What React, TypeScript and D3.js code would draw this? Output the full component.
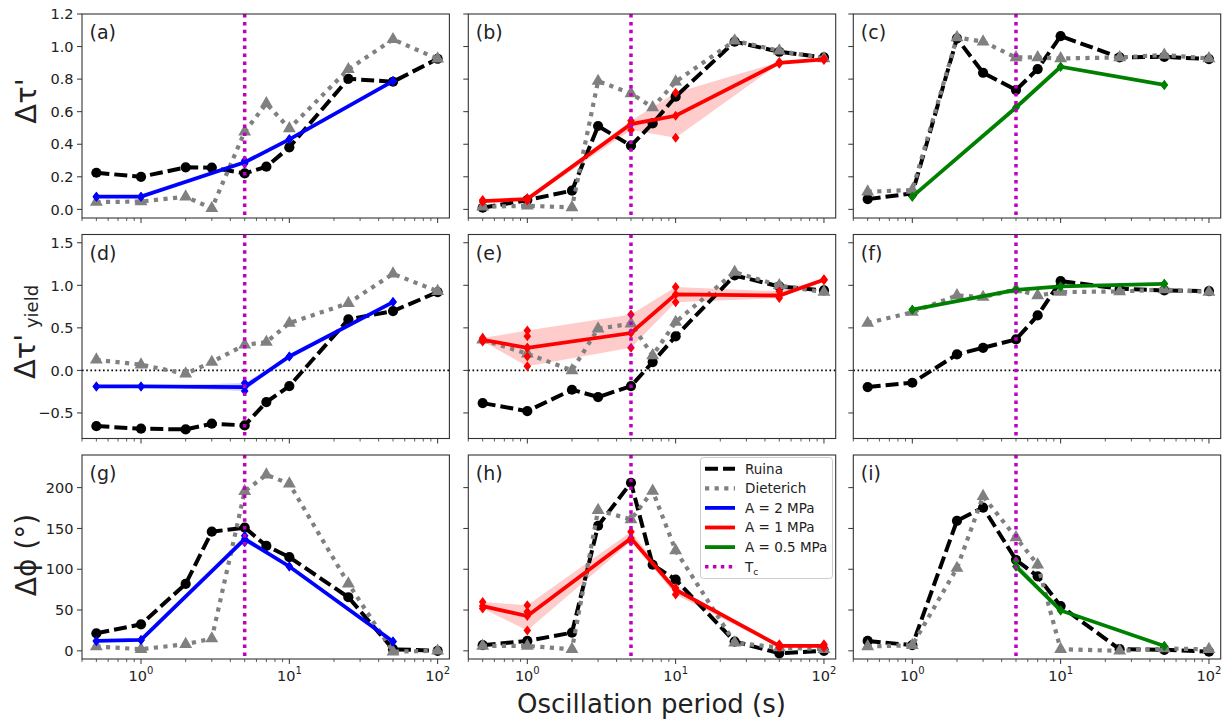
import React from 'react';
import * as d3 from 'd3';

// ---------- data ----------
const periods = [0.5, 1, 2, 3, 5, 7, 10, 25, 50, 100];
const Tc = 5;

// Row 1: Δτ'
const ruinaA = [0.225, 0.2, 0.258, 0.256, 0.221, 0.262, 0.381, 0.802, 0.784, 0.925];
const dieterichA = [0.045, 0.048, 0.078, 0.006, 0.477, 0.65, 0.497, 0.86, 1.044, 0.925];
const ruinaB = [0.01, 0.057, 0.115, 0.512, 0.391, 0.528, 0.692, 1.03, 0.968, 0.933];
const dieterichB = [0.016, 0.022, 0.012, 0.788, 0.712, 0.626, 0.784, 1.036, 0.974, 0.927];
const ruinaC = [0.063, 0.098, 1.05, 0.839, 0.733, 0.862, 1.064, 0.933, 0.937, 0.923];
const dieterichC = [0.108, 0.119, 1.056, 1.03, 0.933, 0.933, 0.927, 0.933, 0.948, 0.927];

// Row 2: Δτ'_yield
const ruinaD = [-0.654, -0.685, -0.693, -0.626, -0.646, -0.372, -0.184, 0.599, 0.697, 0.92];
const dieterichD = [0.125, 0.067, -0.039, 0.098, 0.3, 0.333, 0.556, 0.79, 1.135, 0.93];
const ruinaE = [-0.384, -0.478, -0.227, -0.313, -0.184, 0.098, 0.4, 1.116, 0.987, 0.94];
const dieterichE = [0.36, 0.196, 0.0, 0.49, 0.548, 0.176, 0.568, 1.155, 0.998, 0.92];
const ruinaF = [-0.196, -0.145, 0.188, 0.266, 0.364, 0.646, 1.05, 0.96, 0.94, 0.932];
const dieterichF = [0.556, 0.685, 0.881, 0.861, 0.951, 0.881, 0.92, 0.928, 0.951, 0.92];

// Row 3: Δφ (°)
const ruinaG = [21.5, 32.5, 82, 146, 151, 128.6, 114.8, 65.7, 2, 0];
const dieterichG = [5.3, 2, 8.1, 15, 195.5, 215.8, 204.8, 82.3, -1, 0];
const ruinaH = [6.9, 12.2, 22.3, 153.3, 206, 105.5, 87.2, 11.4, -3, 0];
const dieterichH = [6, 6, 2, 172.4, 161, 196, 123, 10, 4, 2];
const ruinaI = [12.2, 6.9, 159.4, 175.6, 111.5, 91.3, 54.8, 2, 1.2, -1];
const dieterichI = [5.3, 6.9, 101.4, 189.5, 139, 105.5, 2, 0, 2.8, 2];

// Model runs (A = 2, 1, 0.5 MPa): mean line and individual run values
const periods2MPa = [0.5, 1, 5, 10, 50];
const periods1MPa = [0.5, 1, 5, 10, 50, 100];
const periods05MPa = [1, 5, 10, 50];
const periods05MPaPhase = [5, 10, 50];

const meanA = [0.078, 0.078, 0.289, 0.43, 0.788];
const runsA = [[0.078], [0.078], [0.28, 0.3], [0.43], [0.788]];
const meanB = [0.051, 0.063, 0.524, 0.575, 0.9, 0.921];
const runsB = [[0.045, 0.057], [0.055, 0.07], [0.487, 0.545], [0.44, 0.716], [0.895, 0.905], [0.918, 0.925]];
const meanC = [0.078, 0.626, 0.876, 0.764];
const runsC = [[0.078], [0.626], [0.876], [0.764]];

const meanD = [-0.188, -0.188, -0.196, 0.164, 0.803];
const runsD = [[-0.188], [-0.188], [-0.149, -0.243], [0.164], [0.803]];
const meanE = [0.36, 0.266, 0.439, 0.893, 0.88, 1.065];
const runsE = [[0.34, 0.38], [0.47, 0.4, 0.266, 0.164, 0.05], [0.658, 0.266], [0.98, 0.8], [0.85, 0.93], [1.06, 1.07]];
const meanF = [0.713, 0.947, 0.987, 1.018];
const runsF = [[0.713], [0.947], [0.987], [1.018]];

const meanG = [12.2, 13.4, 137, 103.4, 11.4];
const runsG = [[12.2], [13.4], [133, 141], [103.4], [11.4]];
const meanH = [54.8, 42.6, 138, 75, 6, 6];
const runsH = [[52, 60], [25, 48, 56], [134, 146], [69, 77], [4, 8], [4, 8]];
const meanI = [103.4, 49.5, 6];
const runsI = [[103.4, 110], [49.5], [6]];

const panelLabels = ['(a)', '(b)', '(c)', '(d)', '(e)', '(f)', '(g)', '(h)', '(i)'];
const yTicksRows = [
  [0, 0.2, 0.4, 0.6, 0.8, 1.0, 1.2],
  [-0.5, 0, 0.5, 1.0, 1.5],
  [0, 50, 100, 150, 200],
];
const yTickFormats = [(v: number) => v.toFixed(1), (v: number) => v.toFixed(1), (v: number) => v.toFixed(0)];
const yDomains: [number, number][] = [[-0.053, 1.2], [-0.8, 1.597], [-10, 240]];
const xDomain: [number, number] = [0.4, 120];
const xMajor = [1, 10, 100];
const xMajorExp = ['0', '1', '2'];
const legendLabels = ['Ruina', 'Dieterich', 'A = 2 MPa', 'A = 1 MPa', 'A = 0.5 MPa', 'T'];

// ---------- styling / layout ----------
const FONT = 'DejaVu Sans, sans-serif';
const colLeft = [82, 468.3, 853.3];
const rowTop = [14, 234.5, 455];
const W = 367.4;
const H = 204;
const C_BLACK = '#000000';
const C_GREY = '#808080';
const C_MAG = '#bf00bf';
const modelColors = ['#0000ff', '#ff0000', '#008000'];
const AX = '#333333';
const TXT = '#222222';
const LW_RUINA = 4;
const LW_DIET = 4.2;
const LW_MODEL = 3.8;
const LW_TC = 3.5;
const DASH_RUINA = '13,5';
const DASH_DIET = '4.2,5.4';
const DASH_TC = '3.5,4.4';

const ruinaRows = [[ruinaA, ruinaB, ruinaC], [ruinaD, ruinaE, ruinaF], [ruinaG, ruinaH, ruinaI]];
const dietRows = [[dieterichA, dieterichB, dieterichC], [dieterichD, dieterichE, dieterichF], [dieterichG, dieterichH, dieterichI]];
const modelRows = [
  [
    { x: periods2MPa, mean: meanA, runs: runsA },
    { x: periods1MPa, mean: meanB, runs: runsB },
    { x: periods05MPa, mean: meanC, runs: runsC },
  ],
  [
    { x: periods2MPa, mean: meanD, runs: runsD },
    { x: periods1MPa, mean: meanE, runs: runsE },
    { x: periods05MPa, mean: meanF, runs: runsF },
  ],
  [
    { x: periods2MPa, mean: meanG, runs: runsG },
    { x: periods1MPa, mean: meanH, runs: runsH },
    { x: periods05MPaPhase, mean: meanI, runs: runsI },
  ],
];

const diamond = (cx: number, cy: number) => {
  const hw = 3.8, hh = 5;
  return `M${cx},${cy - hh}L${cx + hw},${cy}L${cx},${cy + hh}L${cx - hw},${cy}Z`;
};
const triPath = d3.symbol().type(d3.symbolTriangle).size(72)();

function minorTicks(): number[] {
  const out: number[] = [];
  [0.1, 1, 10, 100].forEach((dec) => {
    for (let k = 2; k <= 9; k++) {
      const v = dec * k;
      if (v >= xDomain[0] && v <= xDomain[1]) out.push(v);
    }
  });
  return out;
}

function Panel({ row, col }: { row: number; col: number }) {
  const x = d3.scaleLog().domain(xDomain).range([0, W]);
  const y = d3.scaleLinear().domain(yDomains[row]).range([H, 0]);
  const ruina = ruinaRows[row][col];
  const diet = dietRows[row][col];
  const model = modelRows[row][col];
  const color = modelColors[col];
  const line = d3.line<[number, number]>().x((d) => x(d[0])).y((d) => y(d[1]));
  const ruinaPts: [number, number][] = periods.map((p, i) => [p, ruina[i]]);
  const dietPts: [number, number][] = periods.map((p, i) => [p, diet[i]]);
  const meanPts: [number, number][] = model.x.map((p, i) => [p, model.mean[i]]);
  const lows = model.runs.map((r, i) => Math.min(...r, model.mean[i]));
  const highs = model.runs.map((r, i) => Math.max(...r, model.mean[i]));
  const area = d3
    .area<number>()
    .x((_, i) => x(model.x[i]))
    .y0((_, i) => y(lows[i]))
    .y1((_, i) => y(highs[i]));
  const clipId = `clip-${row}-${col}`;
  const left = colLeft[col];
  const top = rowTop[row];
  const minors = minorTicks();
  return (
    <g transform={`translate(${left},${top})`}>
      <defs>
        <clipPath id={clipId}>
          <rect x={0} y={0} width={W} height={H} />
        </clipPath>
      </defs>
      <rect x={0} y={0} width={W} height={H} fill="#fff" />
      <g clipPath={`url(#${clipId})`}>
        {row === 1 && (
          <line x1={0} x2={W} y1={y(0)} y2={y(0)} stroke="#000" strokeWidth={1.6} strokeDasharray="1.6,2.6" />
        )}
        <path d={area(model.x) || ''} fill={color} fillOpacity={0.2} stroke="none" />
        <path d={line(ruinaPts) || ''} fill="none" stroke={C_BLACK} strokeWidth={LW_RUINA} strokeDasharray={DASH_RUINA} />
        {ruinaPts.map((d, i) => (
          <circle key={`r${i}`} cx={x(d[0])} cy={y(d[1])} r={5.1} fill={C_BLACK} />
        ))}
        <path d={line(dietPts) || ''} fill="none" stroke={C_GREY} strokeWidth={LW_DIET} strokeDasharray={DASH_DIET} />
        {dietPts.map((d, i) => (
          <path key={`d${i}`} d={triPath || ''} transform={`translate(${x(d[0])},${y(d[1])})`} fill={C_GREY} />
        ))}
        <path d={line(meanPts) || ''} fill="none" stroke={color} strokeWidth={LW_MODEL} />
        {model.x.map((p, i) => (
          <g key={`m${i}`}>
            {[model.mean[i], ...model.runs[i]].map((v, j) => (
              <path key={j} d={diamond(x(p), y(v))} fill={color} />
            ))}
          </g>
        ))}
        <line x1={x(Tc)} x2={x(Tc)} y1={0} y2={H} stroke={C_MAG} strokeWidth={LW_TC} strokeDasharray={DASH_TC} />
      </g>
      <rect x={0} y={0} width={W} height={H} fill="none" stroke={AX} strokeWidth={1.1} />
      {/* x ticks */}
      {xMajor.map((v) => (
        <line key={`xm${v}`} x1={x(v)} x2={x(v)} y1={H} y2={H + 5} stroke={AX} strokeWidth={1} />
      ))}
      {minors.map((v) => (
        <line key={`xn${v}`} x1={x(v)} x2={x(v)} y1={H} y2={H + 3} stroke={AX} strokeWidth={0.8} />
      ))}
      {row === 2 &&
        xMajor.map((v, i) => (
          <text key={`xl${v}`} x={x(v)} y={H + 21.5} fontSize={14.5} fontFamily={FONT} fill={TXT} textAnchor="middle">
            10
            <tspan fontSize={10} dy={-6.5}>
              {xMajorExp[i]}
            </tspan>
          </text>
        ))}
      {/* y ticks */}
      {yTicksRows[row].map((v) => (
        <line key={`yt${v}`} x1={-5} x2={0} y1={y(v)} y2={y(v)} stroke={AX} strokeWidth={1} />
      ))}
      {col === 0 &&
        yTicksRows[row].map((v) => (
          <text key={`yl${v}`} x={-8.5} y={y(v)} dy="0.36em" fontSize={14.5} fontFamily={FONT} fill={TXT} textAnchor="end">
            {yTickFormats[row](v).replace('-', '\u2212')}
          </text>
        ))}
      <text x={7.5} y={25.3} fontSize={19} fontFamily={FONT} fill={TXT}>
        {panelLabels[row * 3 + col]}
      </text>
    </g>
  );
}

function Legend() {
  const lx = 700.5, ly = 457.5, lw = 132, lh = 121;
  const styles = [
    { stroke: C_BLACK, dash: DASH_RUINA, w: LW_RUINA },
    { stroke: C_GREY, dash: DASH_DIET, w: LW_DIET },
    { stroke: modelColors[0], dash: undefined, w: LW_MODEL },
    { stroke: modelColors[1], dash: undefined, w: LW_MODEL },
    { stroke: modelColors[2], dash: undefined, w: LW_MODEL },
    { stroke: C_MAG, dash: DASH_TC, w: LW_TC },
  ];
  return (
    <g>
      <rect x={lx} y={ly} width={lw} height={lh} rx={3} fill="#fff" fillOpacity={0.85} stroke="#cccccc" strokeWidth={1} />
      {legendLabels.map((lab, i) => {
        const cy = 468.7 + i * 19.6;
        const s = styles[i];
        return (
          <g key={lab}>
            <line x1={705} x2={735} y1={cy} y2={cy} stroke={s.stroke} strokeWidth={s.w} strokeDasharray={s.dash} />
            <text x={745} y={cy} dy="0.36em" fontSize={13.5} fontFamily={FONT} fill={TXT}>
              {lab}
              {i === 5 && (
                <tspan fontSize={9} dy={3}>
                  c
                </tspan>
              )}
            </text>
          </g>
        );
      })}
    </g>
  );
}

export default function App() {
  const rows = [0, 1, 2];
  const cols = [0, 1, 2];
  return (
    <svg width={1224} height={719} style={{ position: 'absolute', left: 0, top: 0, background: '#fff' }} xmlns="http://www.w3.org/2000/svg">
      <rect x={0} y={0} width={1224} height={719} fill="#fff" />
      {rows.map((r) => cols.map((c) => <Panel key={`${r}-${c}`} row={r} col={c} />))}
      <Legend />
      {/* y labels */}
      <text transform={`translate(36,101) rotate(-90)`} textAnchor="middle" fontSize={29} fontFamily={FONT} fill={TXT}>
        Δτ'
      </text>
      <text transform={`translate(35,332) rotate(-90)`} textAnchor="middle" fontSize={29} fontFamily={FONT} fill={TXT}>
        Δτ'
        <tspan fontSize={18} dy={3}>
          {' yield'}
        </tspan>
      </text>
      <text transform={`translate(36,555) rotate(-90)`} textAnchor="middle" fontSize={28} fontFamily={FONT} fill={TXT}>
        Δϕ (°)
      </text>
      <text x={651.5} y={713} textAnchor="middle" fontSize={26} fontFamily={FONT} fill={TXT}>
        Oscillation period (s)
      </text>
    </svg>
  );
}
